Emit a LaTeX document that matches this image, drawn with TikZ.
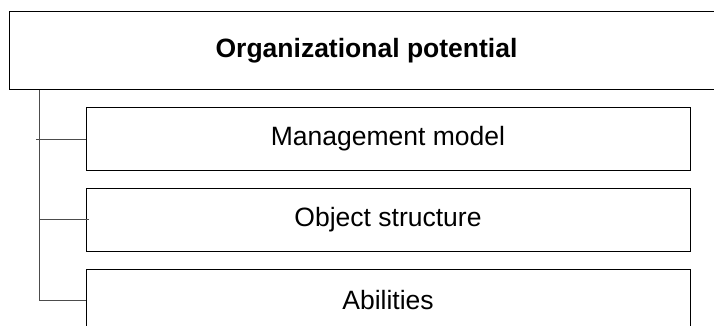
\documentclass[tikz,border=0pt]{standalone}
\usepackage{fontspec}
\setmainfont{Liberation Sans}
\usepackage{tikz}

\begin{document}
\begin{tikzpicture}[
  x=1pt,y=-1pt,
  head/.style={rectangle,draw=black,line width=1pt,minimum width=715pt,minimum height=78pt,inner sep=0pt,font=\fontsize{26.5}{30}\selectfont\bfseries},
  part/.style={rectangle,draw=black,line width=1pt,minimum width=604pt,minimum height=63pt,inner sep=0pt,font=\fontsize{26.5}{30}\selectfont},
  branch/.style={draw=black!70,line width=1pt}
]
\useasboundingbox (0,0) rectangle (714,326);

\node[head] (org) at (366.5,51) {Organizational potential};

\node[part] (mgmt) at (388,139) {Management model};
\node[part] (obj)  at (388,219.5) {Object structure};
\node[part] (abil) at (388,300.5) {Abilities};

% trunk and ticks
\coordinate (trunk) at (39,90);
\draw[branch] (trunk) |- (abil.west);
\draw[branch] (trunk |- mgmt.west) ++(-3,0) -- (mgmt.west);
\draw[branch] (trunk |- obj.west) -- ([xshift=3pt]obj.west);

\end{tikzpicture}
\end{document}
